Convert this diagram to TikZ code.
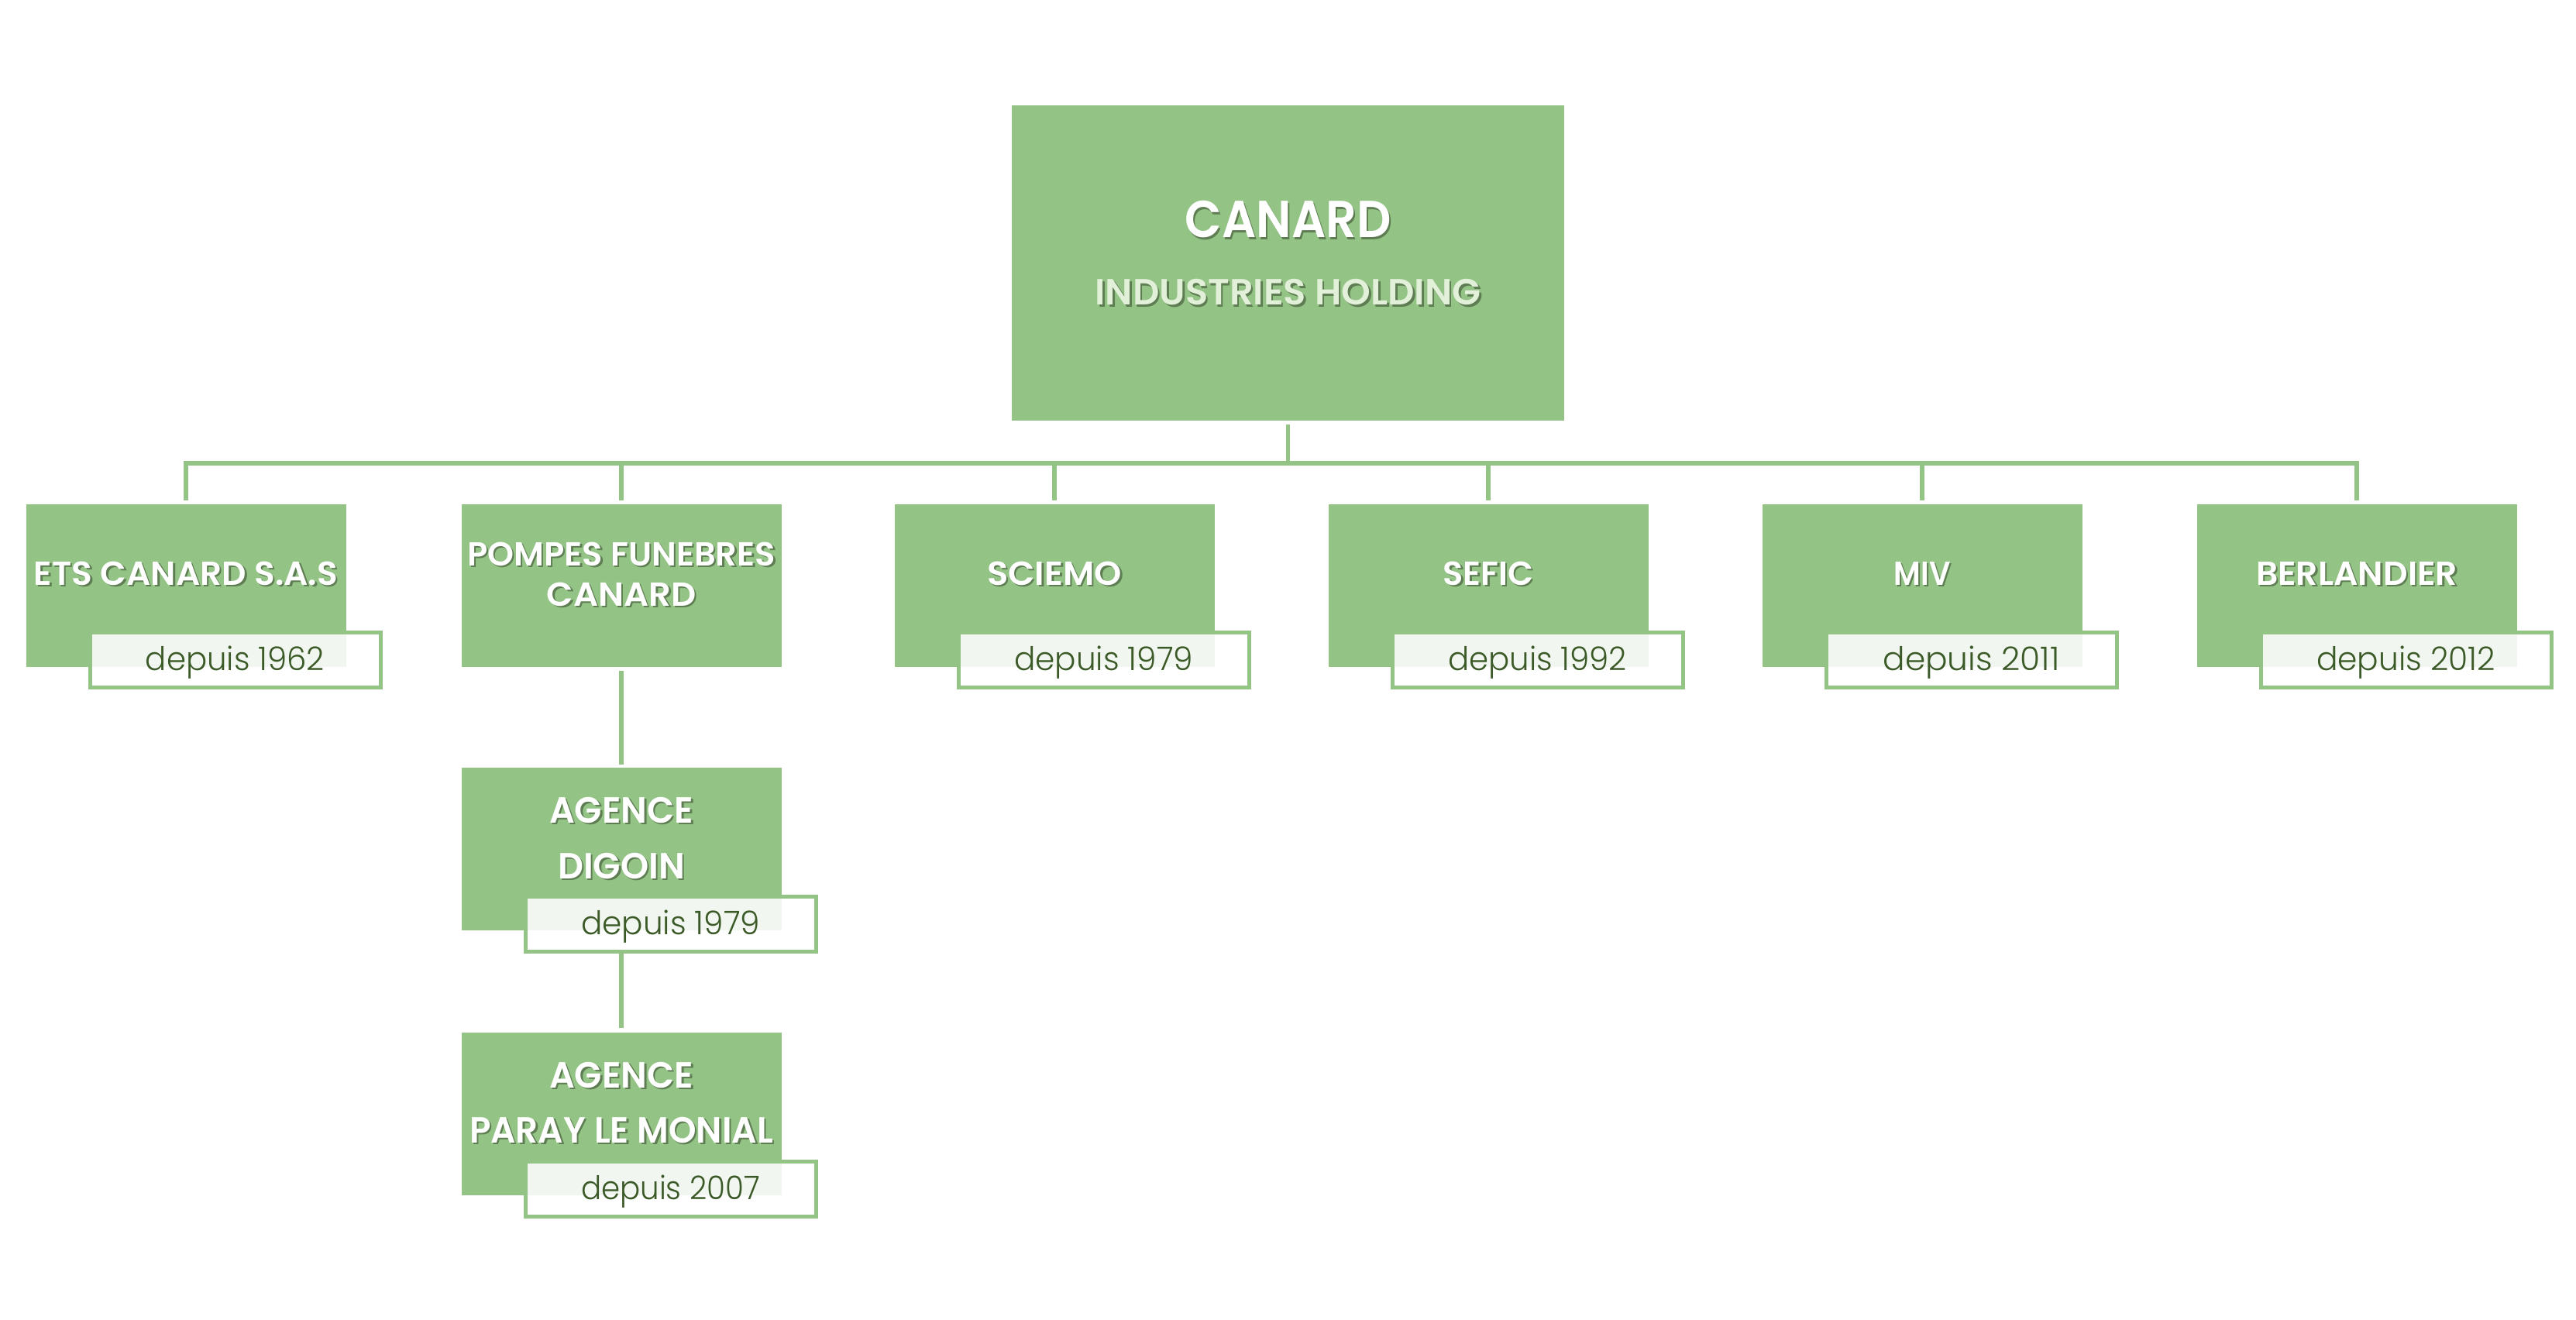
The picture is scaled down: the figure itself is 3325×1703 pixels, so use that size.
\documentclass[tikz,border=0pt]{standalone}
\usepackage{fontspec}
\setmainfont{Poppins}
\newfontfamily\semib{Poppins SemiBold}
\newfontfamily\lightf{Poppins Light}
\usepackage{graphicx}
\definecolor{gbox}{HTML}{93C385}
\definecolor{gdark}{HTML}{3B5A27}
\definecolor{glight}{HTML}{E2F0D9}
\definecolor{shad}{HTML}{5E7D52}
\newcommand\shd[1]{\makebox[0pt][l]{\hspace{2.5pt}\raisebox{-2.5pt}{\color{shad}#1}}#1}
\newcommand\fitw[2]{\resizebox{#1pt}{\height}{\shd{#2}}}
\newcommand\fitd[2]{\resizebox{#1pt}{\height}{#2}}
\tikzset{
  orgbox/.style={fill=gbox, draw=none, minimum width=413pt, minimum height=210pt, inner sep=0pt},
  topbox/.style={fill=gbox, draw=none, minimum width=713pt, minimum height=407pt, inner sep=0pt},
  datebox/.style={fill=white, fill opacity=0.88, draw=gbox, draw opacity=1, line width=5pt, minimum width=375pt, minimum height=71pt, inner sep=0pt},
  nametxt/.style={text=white, font=\semib\fontsize{43}{50}\selectfont, inner sep=0pt, anchor=base},
  bigname/.style={text=white, font=\semib\fontsize{47}{54}\selectfont, inner sep=0pt, anchor=base},
  datetxt/.style={text=gdark, font=\lightf\fontsize{42}{48}\selectfont, inner sep=0pt, anchor=base},
  link/.style={draw=gbox, line width=5.5pt}
}
\begin{document}
\begin{tikzpicture}[x=1pt,y=-1pt]
\useasboundingbox (0,0) rectangle (3325,1703);
% top
\node[topbox] (top) at (1662.5,339.5) {};
\node[text=white, font=\semib\fontsize{67}{74}\selectfont, inner sep=0pt, anchor=base] (topt1) at (1662.5,306.5) {\fitw{266}{CANARD}};
\node[text=glight, font=\semib\fontsize{47}{54}\selectfont, inner sep=0pt, anchor=base] (topt2) at (1662.5,393.5) {\fitw{498}{INDUSTRIES HOLDING}};
\coordinate (bus) at (1662.5,598);
% children
\node[orgbox] (c1) at (240,756) {};
\node[orgbox] (c2) at (802,756) {};
\node[orgbox] (c3) at (1361,756) {};
\node[orgbox] (c4) at (1921,756) {};
\node[orgbox] (c5) at (2481,756) {};
\node[orgbox] (c6) at (3042,756) {};
\node[orgbox] (g1) at (802,1096) {};
\node[orgbox] (g2) at (802,1438) {};
% connectors
\draw[link, shorten <=5pt] (top.south) -- (bus);
\foreach \c in {c1,c2,c3,c4,c5,c6}{\draw[link, shorten <=5pt] (\c.north) |- (bus);}
\draw[link, shorten <=5pt, shorten >=4pt] (c2.south) -- (g1.north);
\draw[link, shorten <=30pt, shorten >=6pt] (g1.south) -- (g2.north);
% names
\node[nametxt] (n1) at (240,755) {\fitw{392}{ETS CANARD S.A.S}};
\node[nametxt] (n2a) at (802,730) {\fitw{398}{POMPES FUNEBRES}};
\node[nametxt] (n2b) at (802,782) {\fitw{193}{CANARD}};
\node[nametxt] (n3) at (1361,755) {\fitw{174}{SCIEMO}};
\node[nametxt] (n4) at (1921,755) {\fitw{117}{SEFIC}};
\node[nametxt] (n5) at (2481,755) {\fitw{73}{MIV}};
\node[nametxt] (n6) at (3042,755) {\fitw{260}{BERLANDIER}};
\node[bigname] (m1a) at (802,1062) {\fitw{186}{AGENCE}};
\node[bigname] (m1b) at (802,1134) {\fitw{164}{DIGOIN}};
\node[bigname] (m2a) at (802,1404) {\fitw{186}{AGENCE}};
\node[bigname] (m2b) at (802,1475) {\fitw{392}{PARAY LE MONIAL}};
% date boxes
\node[datebox] (d1) at (303.5,852) {};
\node[datebox] (d2) at (1424.5,852) {};
\node[datebox] (d3) at (1984.5,852) {};
\node[datebox] (d4) at (2544.5,852) {};
\node[datebox] (d5) at (3105.5,852) {};
\node[datebox] (d6) at (865.5,1193) {};
\node[datebox] (d7) at (865.5,1535) {};
\node[datetxt] (e1) at (303.5,865) {\fitd{231}{depuis 1962}};
\node[datetxt] (e2) at (1424.5,865) {\fitd{231}{depuis 1979}};
\node[datetxt] (e3) at (1984.5,865) {\fitd{231}{depuis 1992}};
\node[datetxt] (e4) at (2544.5,865) {\fitd{228}{depuis 2011}};
\node[datetxt] (e5) at (3105.5,865) {\fitd{231}{depuis 2012}};
\node[datetxt] (e6) at (865.5,1206) {\fitd{231}{depuis 1979}};
\node[datetxt] (e7) at (865.5,1548) {\fitd{231}{depuis 2007}};
\end{tikzpicture}
\end{document}
